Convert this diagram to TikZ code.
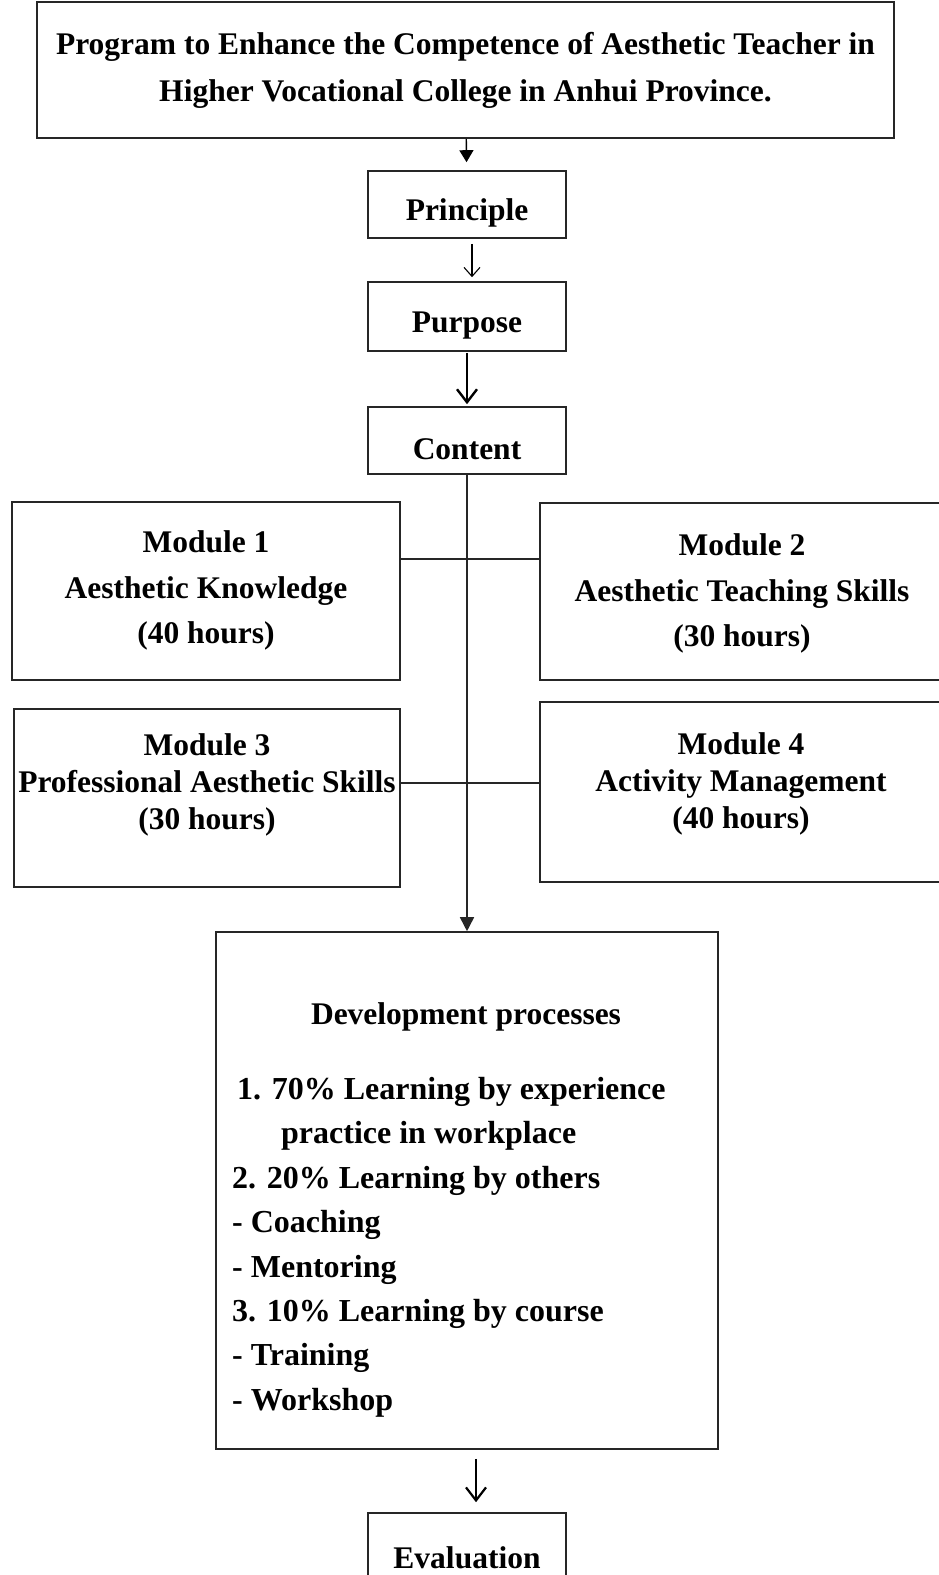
\documentclass[tikz,border=0pt]{standalone}
\usepackage{fontspec}
\setmainfont{Liberation Serif}
\usetikzlibrary{arrows.meta}
\tikzset{
  box/.style     = {rectangle, draw=black!85, line width=1.6pt, inner sep=0pt,
                    align=center, font=\bfseries\fontsize{31.5}{47}\selectfont},
  stepbox/.style = {box, minimum width=198pt, text height=#1, text depth=7pt},
  stepbox/.default = 38pt,
  modbox/.style  = {rectangle, draw=black!85, line width=1.6pt, inner sep=0pt},
  modtext/.style = {align=center, inner sep=0pt,
                    font=\bfseries\fontsize{31.5}{#1}\selectfont},
  modtext/.default = 45.5,
  listtext/.style = {align=left, inner sep=0pt, anchor=north west,
                    font=\bfseries\fontsize{32}{44.4}\selectfont},
  link/.style    = {line width=1.6pt, black!85},
  solidhead/.style = {line width=1.4pt, -{Triangle[length=12pt,width=14pt]}},
  openhead/.style  = {line width=#1, -{Straight Barb[length=13pt,width=20pt]}},
}

\begin{document}
\begin{tikzpicture}[x=1pt, y=-1pt]
  \useasboundingbox (0,0) rectangle (939,1575);

  \node[box, minimum width=857pt, minimum height=136pt] (program) at (465.5,70)
    {Program to Enhance the Competence of Aesthetic Teacher in\\
     Higher Vocational College in Anhui Province.};
  \node[stepbox, minimum height=67pt] (principle) at (467,204.5) {Principle};
  \node[stepbox, minimum height=69pt] (purpose)   at (467,316.5) {Purpose};
  \node[stepbox=45pt, minimum height=67pt] (content) at (467,440.5) {Content};

  \node[modbox, minimum width=388pt, minimum height=178pt] (mod1) at (206,591) {};
  \node[modbox, minimum width=405pt, minimum height=177pt] (mod2) at (742.5,591.5) {};
  \node[modbox, minimum width=386pt, minimum height=178pt] (mod3) at (207,798) {};
  \node[modbox, minimum width=405pt, minimum height=180pt] (mod4) at (742.5,792) {};

  \node[modtext] (mod1txt) at (206,590.5) {Module 1\\Aesthetic Knowledge\\(40 hours)};
  \node[modtext] (mod2txt) at (742,593.5) {Module 2\\Aesthetic Teaching Skills\\(30 hours)};
  \node[modtext=37] (mod3txt) at (207,785) {Module 3\\Professional Aesthetic Skills\\(30 hours)};
  \node[modtext=37] (mod4txt) at (741,784) {Module 4\\Activity Management\\(40 hours)};

  \node[modbox, minimum width=502pt, minimum height=517pt] (develop) at (467,1190.5) {};
  \node[box, draw=none] (devhead) at (466,1017) {Development processes};
  \node[listtext] (devlist) at (232,1077)
    {\hspace*{5pt}1. 70\% Learning by experience\\
     \hspace*{49pt}practice in workplace\\
     2. 20\% Learning by others\\
     - Coaching\\
     - Mentoring\\
     3. 10\% Learning by course\\
     - Training\\
     - Workshop};

  \node[stepbox=44pt, minimum height=74pt] (evaluation) at (467,1550) {Evaluation};

  \coordinate (row1) at (467,559);
  \coordinate (row2) at (467,783);

  \draw[solidhead, shorten >=8pt] (program) -- (principle);
  \draw[line width=1.1pt, -{Straight Barb[length=9pt,width=16pt]}, shorten <=5pt, shorten >=4pt]
    ([xshift=5pt]principle.south) -- ([xshift=5pt]purpose.north);
  \draw[openhead=2.4pt, shorten <=1pt, shorten >=2pt] (purpose) -- (content);
  \draw[link, -{Triangle[length=14pt,width=14pt]}] (content) -- (develop);
  \draw[link] (row1 -| mod1.east) -- (row1 -| mod2.west);
  \draw[link] (row2 -| mod3.east) -- (row2 -| mod4.west);
  \draw[openhead=2.2pt, shorten <=9pt, shorten >=10pt]
    ([xshift=9pt]develop.south) -- ([xshift=9pt]evaluation.north);
\end{tikzpicture}
\end{document}
